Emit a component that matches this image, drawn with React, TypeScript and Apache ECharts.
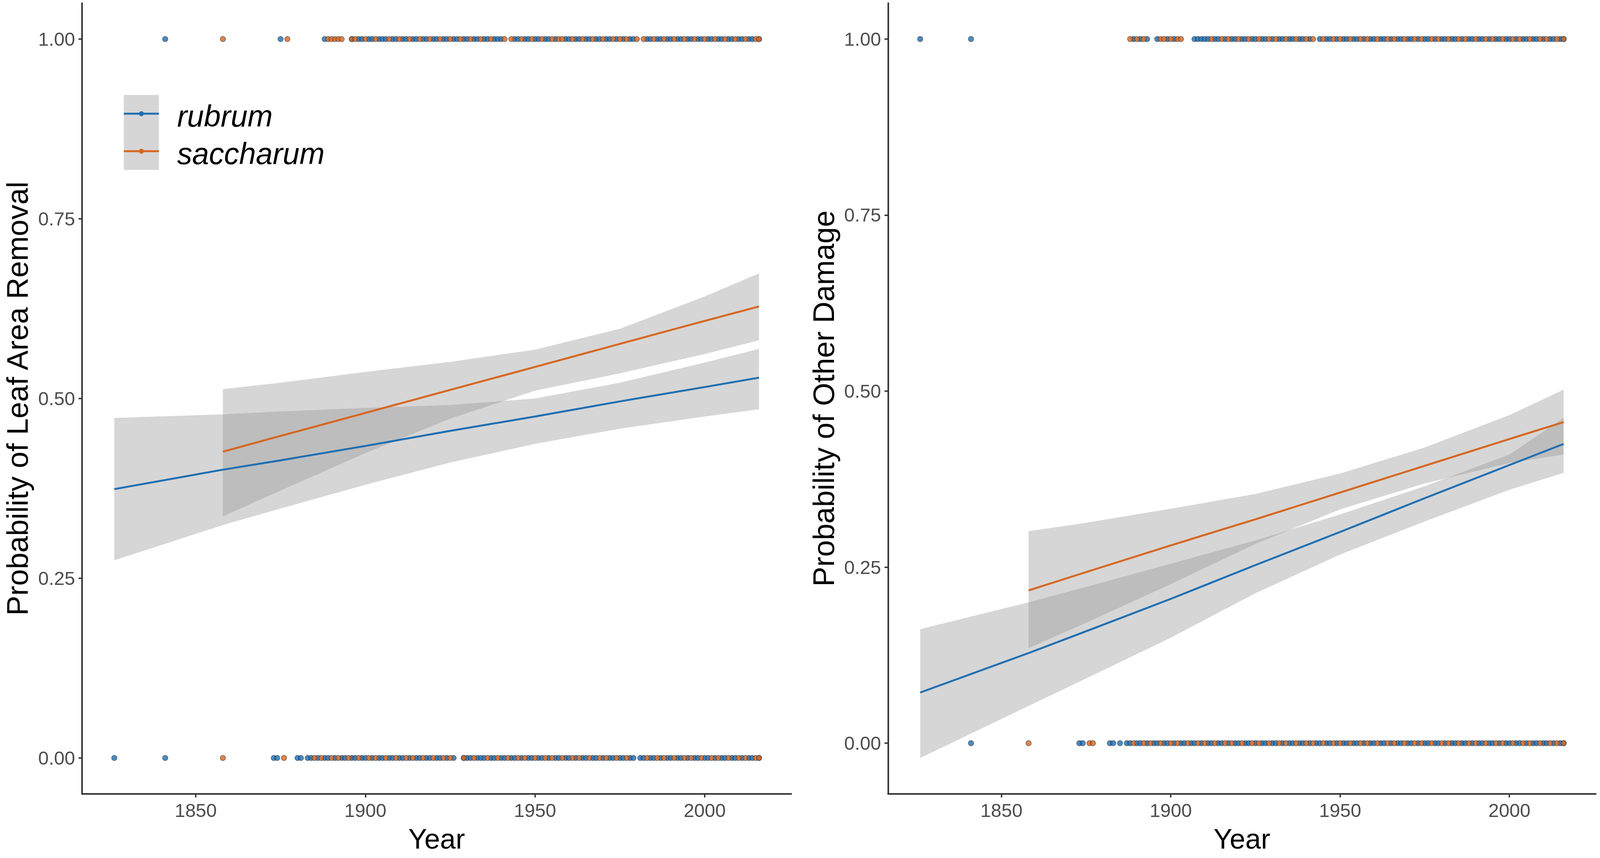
import React, { useEffect, useRef } from "react";
import * as echarts from "echarts";

const SPECIES = ["rubrum", "saccharum"];
const COLORS = ["#1f6fb2", "#d7661f"];
const RIBBON = "rgba(153,153,153,0.4)";
const FONT = "'Liberation Sans', Arial, Helvetica, sans-serif";

const xTicks = [1850, 1900, 1950, 2000];
const yTicks = [0, 0.25, 0.5, 0.75, 1];
const xTitle = "Year";
const yTitleLeft = "Probability of Leaf Area Removal";
const yTitleRight = "Probability of Other Damage";

// ---------- Left panel: leaf area removal ----------
const leafRubrumYears = [1826, 1858, 1875, 1900, 1925, 1950, 1975, 2000, 2016];
const leafRubrumFit = [0.374, 0.401, 0.414, 0.434, 0.455, 0.475, 0.496, 0.516, 0.529];
const leafRubrumLower = [0.275, 0.324, 0.347, 0.38, 0.411, 0.437, 0.458, 0.475, 0.485];
const leafRubrumUpper = [0.473, 0.478, 0.482, 0.487, 0.491, 0.5, 0.522, 0.55, 0.569];

const leafSaccYears = [1858, 1875, 1900, 1925, 1950, 1975, 2000, 2016];
const leafSaccFit = [0.426, 0.448, 0.48, 0.512, 0.544, 0.576, 0.608, 0.628];
const leafSaccLower = [0.336, 0.372, 0.424, 0.472, 0.511, 0.535, 0.562, 0.581];
const leafSaccUpper = [0.513, 0.522, 0.537, 0.551, 0.568, 0.597, 0.642, 0.674];

const leafRubrumYes = [1841, 1875, 1888, 1896, 1898, 1899, 1901, 1902, 1904, 1905, 1906, 1908, 1909, 1911, 1912, 1914, 1915, 1917, 1918, 1920, 1921, 1923, 1924, 1926, 1927, 1929, 1930, 1932, 1933, 1935, 1936, 1938, 1939, 1940, 1944, 1945, 1947, 1948, 1950, 1951, 1953, 1954, 1956, 1959, 1960, 1962, 1963, 1965, 1966, 1968, 1969, 1971, 1972, 1974, 1976, 1978, 1979, 1983, 1984, 1986, 1987, 1989, 1990, 1992, 1993, 1995, 1996, 1998, 1999, 2001, 2002, 2004, 2005, 2007, 2008, 2010, 2011, 2013, 2014, 2016];
const leafSaccYes = [1858, 1877, 1889, 1890, 1891, 1892, 1893, 1896, 1897, 1900, 1903, 1907, 1910, 1913, 1916, 1919, 1922, 1925, 1928, 1931, 1934, 1937, 1941, 1943, 1946, 1949, 1952, 1955, 1957, 1958, 1961, 1964, 1967, 1970, 1973, 1975, 1977, 1980, 1982, 1985, 1988, 1991, 1994, 1997, 2000, 2003, 2006, 2009, 2012, 2015, 2016];
const leafRubrumNo = [1826, 1841, 1873, 1874, 1880, 1881, 1883, 1884, 1886, 1888, 1889, 1891, 1893, 1894, 1896, 1897, 1899, 1900, 1902, 1904, 1905, 1907, 1908, 1910, 1911, 1913, 1915, 1916, 1918, 1919, 1921, 1922, 1924, 1926, 1929, 1930, 1931, 1933, 1934, 1935, 1937, 1938, 1940, 1941, 1943, 1944, 1946, 1948, 1949, 1951, 1952, 1954, 1956, 1957, 1959, 1960, 1962, 1964, 1965, 1967, 1968, 1970, 1972, 1973, 1975, 1976, 1978, 1979, 1981, 1982, 1984, 1985, 1987, 1989, 1990, 1992, 1993, 1995, 1997, 1998, 2000, 2001, 2003, 2005, 2006, 2008, 2009, 2011, 2013, 2014, 2016];
const leafSaccNo = [1858, 1876, 1885, 1887, 1890, 1892, 1895, 1898, 1901, 1903, 1906, 1909, 1912, 1914, 1917, 1920, 1923, 1925, 1929, 1932, 1936, 1939, 1942, 1945, 1947, 1950, 1953, 1955, 1958, 1961, 1963, 1966, 1969, 1971, 1974, 1977, 1983, 1986, 1988, 1991, 1994, 1996, 1999, 2002, 2004, 2007, 2010, 2012, 2015, 2016];

// ---------- Right panel: other damage ----------
const otherRubrumYears = [1826, 1858, 1875, 1900, 1925, 1950, 1975, 2000, 2016];
const otherRubrumFit = [0.072, 0.128, 0.159, 0.205, 0.253, 0.3, 0.348, 0.395, 0.425];
const otherRubrumLower = [-0.021, 0.053, 0.092, 0.15, 0.213, 0.268, 0.315, 0.36, 0.384];
const otherRubrumUpper = [0.162, 0.2, 0.222, 0.255, 0.288, 0.325, 0.365, 0.41, 0.462];

const otherSaccYears = [1858, 1875, 1900, 1925, 1950, 1975, 2000, 2016];
const otherSaccFit = [0.217, 0.243, 0.281, 0.318, 0.356, 0.394, 0.432, 0.456];
const otherSaccLower = [0.135, 0.171, 0.226, 0.283, 0.332, 0.369, 0.398, 0.41];
const otherSaccUpper = [0.301, 0.313, 0.333, 0.354, 0.383, 0.42, 0.466, 0.502];

const otherRubrumYes = [1826, 1841, 1889, 1891, 1893, 1896, 1899, 1901, 1907, 1908, 1909, 1910, 1911, 1913, 1914, 1916, 1918, 1919, 1921, 1922, 1924, 1925, 1927, 1928, 1930, 1932, 1933, 1935, 1936, 1938, 1939, 1941, 1944, 1946, 1947, 1949, 1951, 1952, 1954, 1955, 1957, 1959, 1960, 1962, 1963, 1965, 1967, 1968, 1970, 1971, 1973, 1975, 1976, 1978, 1980, 1981, 1983, 1984, 1986, 1988, 1989, 1991, 1992, 1994, 1996, 1997, 1999, 2000, 2002, 2004, 2005, 2007, 2008, 2010, 2012, 2013, 2015, 2016];
const otherSaccYes = [1888, 1890, 1892, 1897, 1898, 1900, 1902, 1903, 1912, 1915, 1917, 1920, 1923, 1926, 1929, 1931, 1934, 1937, 1940, 1942, 1945, 1948, 1950, 1953, 1956, 1958, 1961, 1964, 1966, 1969, 1972, 1974, 1977, 1979, 1982, 1985, 1987, 1990, 1993, 1995, 1998, 2001, 2003, 2006, 2009, 2011, 2014, 2016];
const otherRubrumNo = [1841, 1873, 1874, 1882, 1883, 1885, 1887, 1888, 1890, 1891, 1893, 1895, 1896, 1898, 1899, 1901, 1903, 1904, 1906, 1907, 1909, 1911, 1912, 1914, 1915, 1917, 1919, 1920, 1922, 1923, 1925, 1927, 1928, 1930, 1931, 1933, 1935, 1936, 1938, 1939, 1941, 1943, 1944, 1946, 1947, 1949, 1951, 1952, 1954, 1955, 1957, 1959, 1960, 1962, 1963, 1965, 1967, 1968, 1970, 1971, 1973, 1975, 1976, 1978, 1979, 1981, 1983, 1984, 1986, 1987, 1989, 1991, 1992, 1994, 1995, 1997, 1999, 2000, 2002, 2003, 2005, 2007, 2008, 2010, 2011, 2013, 2015, 2016];
const otherSaccNo = [1858, 1876, 1877, 1889, 1892, 1894, 1897, 1900, 1902, 1905, 1908, 1910, 1913, 1916, 1918, 1921, 1924, 1926, 1929, 1932, 1934, 1937, 1940, 1942, 1945, 1948, 1950, 1953, 1956, 1958, 1961, 1964, 1966, 1969, 1972, 1974, 1977, 1980, 1982, 1985, 1988, 1990, 1993, 1996, 1998, 2001, 2004, 2006, 2009, 2012, 2014, 2016];

const PANELS = [
  {
    title: yTitleLeft,
    yMin: -0.05,
    yMax: 1.05,
    grid: { left: 234, top: 8, width: 2022, height: 2024 },
    fits: [
      { years: leafRubrumYears, fit: leafRubrumFit, lower: leafRubrumLower, upper: leafRubrumUpper },
      { years: leafSaccYears, fit: leafSaccFit, lower: leafSaccLower, upper: leafSaccUpper },
    ],
    points: [
      { yes: leafRubrumYes, no: leafRubrumNo },
      { yes: leafSaccYes, no: leafSaccNo },
    ],
  },
  {
    title: yTitleRight,
    yMin: -0.072,
    yMax: 1.051,
    grid: { left: 2532, top: 8, width: 2018, height: 2024 },
    fits: [
      { years: otherRubrumYears, fit: otherRubrumFit, lower: otherRubrumLower, upper: otherRubrumUpper },
      { years: otherSaccYears, fit: otherSaccFit, lower: otherSaccLower, upper: otherSaccUpper },
    ],
    points: [
      { yes: otherRubrumYes, no: otherRubrumNo },
      { yes: otherSaccYes, no: otherSaccNo },
    ],
  },
];

const AXIS_COLOR = "#333333";
const DW = 4562;
const DH = 2196;

function buildOption(vw: number, vh: number) {
  const sx = vw / DW;
  const sy = vh / DH;
  const s = Math.min(sx, sy);
  const X = (v: number) => v * sx;
  const Y = (v: number) => v * sy;
  const F = (v: number) => v * s;

  const grids: any[] = [];
  const xAxes: any[] = [];
  const yAxes: any[] = [];
  const series: any[] = [];
  const graphics: any[] = [];

  PANELS.forEach((p, gi) => {
    grids.push({
      left: X(p.grid.left),
      top: Y(p.grid.top),
      width: X(p.grid.width),
      height: Y(p.grid.height),
      containLabel: false,
    });
    xAxes.push({
      type: "value",
      gridIndex: gi,
      min: 1816.5,
      max: 2025.5,
      axisLine: { show: true, onZero: false, lineStyle: { color: AXIS_COLOR, width: F(4.5) } },
      axisTick: { show: true, length: F(10), customValues: xTicks, lineStyle: { color: AXIS_COLOR, width: F(4) } },
      axisLabel: {
        customValues: xTicks,
        color: "#4d4d4d",
        fontSize: F(54),
        fontFamily: FONT,
        margin: F(20),
        formatter: (v: number) => String(v),
      },
      splitLine: { show: false },
    });
    yAxes.push({
      type: "value",
      gridIndex: gi,
      min: p.yMin,
      max: p.yMax,
      axisLine: { show: true, onZero: false, lineStyle: { color: AXIS_COLOR, width: F(4.5) } },
      axisTick: { show: true, length: F(10), customValues: yTicks, lineStyle: { color: AXIS_COLOR, width: F(4) } },
      axisLabel: {
        customValues: yTicks,
        color: "#4d4d4d",
        fontSize: F(54),
        fontFamily: FONT,
        margin: F(20),
        formatter: (v: number) => v.toFixed(2),
      },
      splitLine: { show: false },
    });

    // raw observations at 0 and 1
    p.points.forEach((pt, si) => {
      series.push({
        type: "scatter",
        name: SPECIES[si],
        xAxisIndex: gi,
        yAxisIndex: gi,
        data: pt.yes.map((y) => [y, 1]).concat(pt.no.map((y) => [y, 0])),
        symbol: "circle",
        symbolSize: F(15),
        itemStyle: { color: COLORS[si], borderColor: "rgba(15,20,35,0.6)", borderWidth: F(2) },
        silent: true,
      });
    });

    // fitted curves with confidence ribbons
    p.fits.forEach((f, si) => {
      series.push({
        type: "custom",
        name: SPECIES[si] + " CI",
        xAxisIndex: gi,
        yAxisIndex: gi,
        silent: true,
        data: f.years.map((y, i) => [y, f.lower[i], f.upper[i]]),
        encode: { x: 0, y: [1, 2] },
        renderItem: (params: any, api: any) => {
          if (params.dataIndex !== 0) return null;
          const pts: number[][] = [];
          for (let i = 0; i < f.years.length; i++) pts.push(api.coord([f.years[i], f.upper[i]]));
          for (let i = f.years.length - 1; i >= 0; i--) pts.push(api.coord([f.years[i], f.lower[i]]));
          return { type: "polygon", shape: { points: pts }, style: { fill: RIBBON } };
        },
      });
      series.push({
        type: "line",
        name: SPECIES[si],
        xAxisIndex: gi,
        yAxisIndex: gi,
        data: f.years.map((y, i) => [y, f.fit[i]]),
        symbol: "none",
        showSymbol: false,
        smooth: false,
        lineStyle: { color: COLORS[si], width: F(5.5) },
        silent: true,
      });
    });

    // axis titles
    const cx = p.grid.left + p.grid.width / 2;
    const cy = p.grid.top + p.grid.height / 2;
    graphics.push({
      type: "text",
      x: X(p.grid.left - 184),
      y: Y(cy),
      rotation: Math.PI / 2,
      style: {
        text: p.title,
        fontSize: F(85),
        fontFamily: FONT,
        fill: "#000",
        align: "center",
        verticalAlign: "middle",
      },
    });
    graphics.push({
      type: "text",
      x: X(cx),
      y: Y(2147),
      style: {
        text: xTitle,
        fontSize: F(80),
        fontFamily: FONT,
        fill: "#000",
        align: "center",
        verticalAlign: "middle",
      },
    });
  });

  // legend (inside left panel)
  const keyX = 353;
  const keyW = 100;
  const keyYs = [291, 387];
  graphics.push({
    type: "rect",
    shape: { x: X(keyX), y: Y(243), width: X(keyW), height: Y(192) },
    style: { fill: "#d6d6d6" },
  });
  SPECIES.forEach((sp, i) => {
    graphics.push({
      type: "line",
      shape: { x1: X(keyX), y1: Y(keyYs[i]), x2: X(keyX + keyW), y2: Y(keyYs[i]) },
      style: { stroke: COLORS[i], lineWidth: F(5.5) },
    });
    graphics.push({
      type: "circle",
      shape: { cx: X(keyX + keyW / 2), cy: Y(keyYs[i]), r: F(7) },
      style: { fill: COLORS[i] },
    });
    graphics.push({
      type: "text",
      x: X(505),
      y: Y(keyYs[i] + 6),
      style: {
        text: sp,
        fontSize: F(86),
        fontStyle: "italic",
        fontFamily: FONT,
        fill: "#000",
        align: "left",
        verticalAlign: "middle",
      },
    });
  });

  return {
    animation: false,
    backgroundColor: "#ffffff",
    grid: grids,
    xAxis: xAxes,
    yAxis: yAxes,
    series,
    graphic: graphics,
  };
}

export default function App() {
  const ref = useRef<HTMLDivElement>(null);
  useEffect(() => {
    const el = ref.current;
    if (!el) return;
    const chart = echarts.init(el, null, { renderer: "svg" });
    const draw = () => {
      const vw = el.clientWidth || window.innerWidth || DW;
      const vh = el.clientHeight || window.innerHeight || DH;
      chart.resize({ width: vw, height: vh });
      chart.setOption(buildOption(vw, vh) as any, true);
    };
    draw();
    window.addEventListener("resize", draw);
    return () => {
      window.removeEventListener("resize", draw);
      chart.dispose();
    };
  }, []);
  return (
    <div
      ref={ref}
      style={{
        position: "fixed",
        left: 0,
        top: 0,
        width: "100vw",
        height: "100vh",
        background: "#fff",
        overflow: "hidden",
      }}
    />
  );
}
